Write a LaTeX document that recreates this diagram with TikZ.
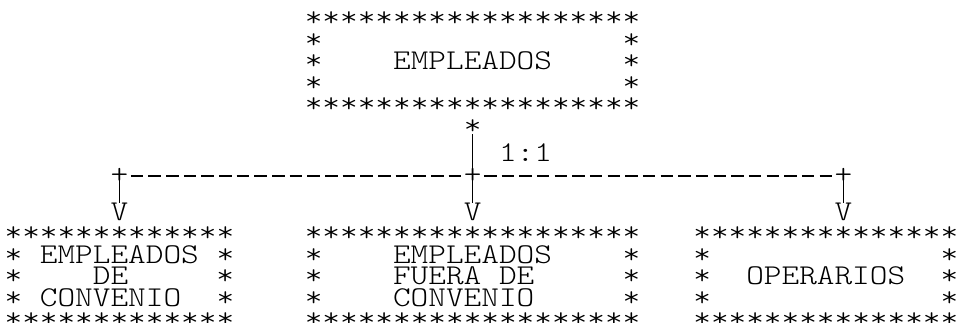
\documentclass[tikz,border=0pt]{standalone}
\usepackage{fontspec}
\newfontfamily\asciifont[FakeStretch=1.1734]{lmmonolt10-regular.otf}
\usetikzlibrary{positioning}

\tikzset{
  art/.style={font=\asciifont\fontsize{21.5pt}{16.125pt}\selectfont,
    inner sep=0pt, outer sep=0pt, anchor=base west},
  link/.style={line width=1pt},
  dashlink/.style={link, dash pattern=on 9.4pt off 3.845pt}
}
\newcommand{\artbox}[1]{\vtop{\baselineskip=16.125pt\lineskiplimit=-\maxdimen #1}}

\begin{document}
\begin{tikzpicture}[x=13.245pt,y=-16.125pt]
\fill[white] (-0.2605,-1.255) rectangle (53.9865,13.722);
\useasboundingbox (-0.2605,-1.255) rectangle (53.9865,13.722);

% top box
\node[art] (emp) at (17,0) {\artbox{%
  \hbox{*******************}
  \hbox{*~~~~~~~~~~~~~~~~~*}
  \hbox{*~~~~EMPLEADOS~~~~*}
  \hbox{*~~~~~~~~~~~~~~~~~*}
  \hbox{*******************}}};

\node[art] (root) at (26,5) {*};
\node[art] (ratio) at (28,6.25) {1:1};

% branch points
\node[art] (pl) at (6,7.28) {+};
\node[art] (pm) at (26,7.28) {+};
\node[art] (pr) at (47,7.28) {+};

% arrow heads
\node[art] (vl) at (6,9) {V};
\node[art] (vm) at (26,9) {V};
\node[art] (vr) at (47,9) {V};

% bottom boxes
\node[art] (conv) at (0,10) {\artbox{%
  \hbox{*************}
  \hbox{*~EMPLEADOS~*}
  \hbox{*~~~~DE~~~~~*}
  \hbox{*~CONVENIO~~*}
  \hbox{*************}}};
\node[art] (fuera) at (17,10) {\artbox{%
  \hbox{*******************}
  \hbox{*~~~~EMPLEADOS~~~~*}
  \hbox{*~~~~FUERA~DE~~~~~*}
  \hbox{*~~~~CONVENIO~~~~~*}
  \hbox{*******************}}};
\node[art] (oper) at (39,10) {\artbox{%
  \hbox{***************}
  \hbox{*~~~~~~~~~~~~~*}
  \hbox{*~~OPERARIOS~~*}
  \hbox{*~~~~~~~~~~~~~*}
  \hbox{***************}}};

% connectors
\draw[link] (root.south) -- (vm.north);
\draw[link] (pl.north) -- (vl.north);
\draw[link] (pr.north) -- (vr.north);
\draw[dashlink] ([xshift=1.92pt]pl.east) -- ([xshift=-1.92pt]pm.west);
\draw[dashlink] ([xshift=1.92pt]pm.east) -- ([xshift=-1.92pt]pr.west);

\end{tikzpicture}
\end{document}
